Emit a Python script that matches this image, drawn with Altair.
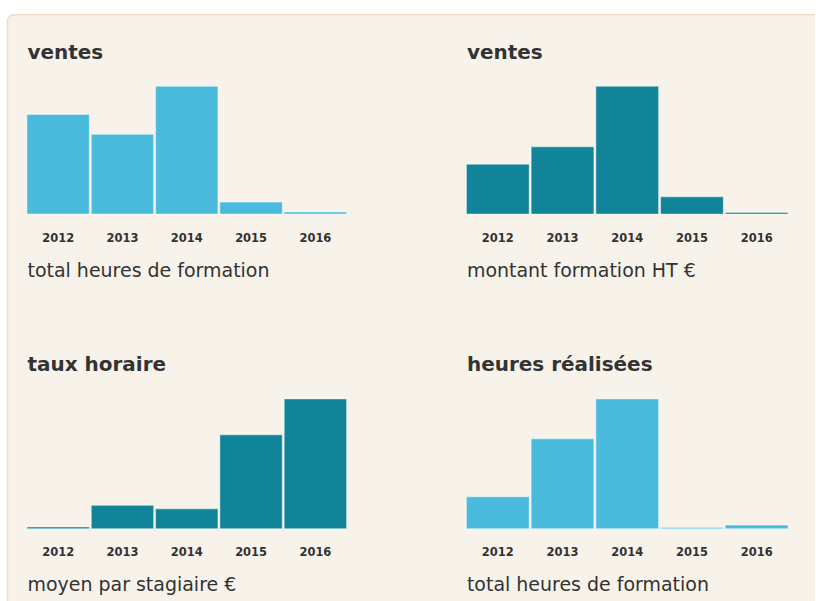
import altair as alt
import pandas as pd

# ---- data -------------------------------------------------------------
years = ["2012", "2013", "2014", "2015", "2016"]

titles = ["ventes", "ventes", "taux horaire", "heures réalisées"]
subtitles = [
    "total heures de formation",
    "montant formation HT €",
    "moyen par stagiaire €",
    "total heures de formation",
]

ventes_heures = [3900, 3120, 5000, 470, 80]          # total heures de formation
ventes_montant = [97700, 131500, 250000, 33800, 3300]  # montant formation HT €
taux_horaire = [20, 270, 230, 1085, 1500]             # moyen par stagiaire €
heures_realisees = [1230, 3460, 5000, 50, 140]        # total heures de formation

series = [ventes_heures, ventes_montant, taux_horaire, heures_realisees]

# ---- style ------------------------------------------------------------
LIGHT = "#4bbbdd"
TEAL = "#12849a"
colors = [LIGHT, TEAL, TEAL, LIGHT]
heights = [128, 128, 130, 130]
widths = [320, 322, 320, 322]
FONT = "DejaVu Sans"
TEXT = "#333333"
BG = "#f7f2ea"
BORDER = "#f0ddc8"


def panel(i, decor=False):
    vals = series[i]
    df = pd.DataFrame({"annee": years, "valeur": vals})
    base = alt.Chart(df)
    bars = base.mark_bar(
        color=colors[i], stroke="#ffffff", strokeWidth=1, strokeOpacity=0.45
    ).encode(
        x=alt.X(
            "annee:O",
            sort=years,
            scale=alt.Scale(paddingInner=0.03, paddingOuter=0),
            axis=alt.Axis(
                orient="bottom",
                title=subtitles[i],
                labelAngle=0,
                ticks=False,
                tickSize=0,
                domain=False,
                grid=False,
                labelPadding=27,
                labelBaseline="alphabetic",
                labelFont=FONT,
                labelFontSize=11.5,
                labelFontWeight="bold",
                labelColor=TEXT,
                titleX=0,
                titleY=62,
                titleAlign="left",
                titleBaseline="alphabetic",
                titleFont=FONT,
                titleFontSize=19,
                titleFontWeight="normal",
                titleColor=TEXT,
                zindex=1,
            ),
        ),
        y=alt.Y(
            "valeur:Q",
            scale=alt.Scale(domain=[0, max(vals)], nice=False, zero=True),
            axis=None,
        ),
    )
    head = base.mark_bar(opacity=0).encode(
        x=alt.X(
            "annee:O",
            sort=years,
            axis=alt.Axis(
                orient="top",
                title=titles[i],
                labels=False,
                ticks=False,
                tickSize=0,
                domain=False,
                grid=False,
                titleX=0,
                titleY=-28,
                titleAlign="left",
                titleBaseline="alphabetic",
                titleFont=FONT,
                titleFontSize=20,
                titleFontWeight="bold",
                titleColor=TEXT,
                zindex=1,
            ),
        ),
    )
    layers = [bars, head]
    if decor:
        # decorative card behind the whole dashboard
        w, h, r = 808.5, 587.5, 6
        frame = alt.Chart(pd.DataFrame({"k": [0]})).mark_rect(
            fill=BG,
            stroke=BORDER,
            strokeWidth=1.5,
            cornerRadiusTopLeft=r,
            strokeDash=[w - r, w + h, h - r + 12, 4000],
        ).encode(
            x=alt.value(-19.5), x2=alt.value(-19.5 + w),
            y=alt.value(-71.5), y2=alt.value(-71.5 + h),
        )
        layers = [frame] + layers
    return (
        alt.layer(*layers)
        .resolve_axis(x="independent")
        .properties(width=widths[i], height=heights[i])
    )


chart = alt.concat(
    panel(0, decor=True), panel(1), panel(2), panel(3),
    columns=2,
    spacing={"row": 185, "column": 120},
    bounds="flush",
    align="each",
).properties(
    padding={"left": 6, "top": 13, "right": 0, "bottom": 0},
    background="#ffffff",
).configure_view(strokeWidth=0)

chart.save("out.html", embed_options={"renderer": "svg", "actions": False})
